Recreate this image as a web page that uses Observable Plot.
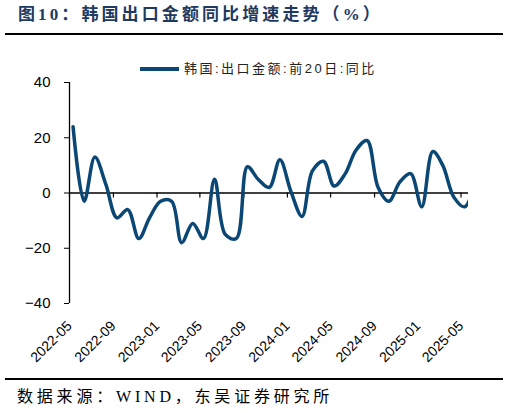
<!DOCTYPE html>
<html><head><meta charset="utf-8">
<script src="https://cdn.jsdelivr.net/npm/d3@7"></script>
<script src="https://cdn.jsdelivr.net/npm/@observablehq/plot@0.6"></script>
<style>
body{margin:0;background:#fff;width:510px;height:413px;position:relative;overflow:hidden;font-family:"Liberation Sans","Noto Sans CJK SC",sans-serif;}
#title{position:absolute;left:18px;top:5px;font-size:17px;font-weight:bold;color:#1e3a5f;letter-spacing:3.1px;font-family:"Liberation Serif","Noto Sans CJK SC",serif;white-space:nowrap;line-height:20px;}
.rule{position:absolute;left:5px;width:498px;height:2px;background:#000;}
#legend{position:absolute;left:140px;top:60px;display:flex;align-items:center;font-size:13px;letter-spacing:2.5px;color:#222;white-space:nowrap;line-height:18px;}
#legend .sw{width:39px;height:3.5px;background:#0b4775;margin-right:5px;}
#chart{position:absolute;left:0;top:40px;}
#source{position:absolute;left:17px;top:387px;font-size:16px;letter-spacing:3.8px;font-family:"Liberation Serif","Noto Sans CJK SC",serif;white-space:nowrap;line-height:20px;}
</style></head><body>
<div id="title">图10：韩国出口金额同比增速走势（%）</div>
<div class="rule" style="top:33px"></div>
<div id="legend"><div class="sw"></div><span>韩国:出口金额:前20日:同比</span></div>
<div id="chart"></div>
<div class="rule" style="top:378px"></div>
<div id="source">数据来源：WIND，东吴证券研究所</div>
<script>
const months = ["2022-05","2022-06","2022-07","2022-08","2022-09","2022-10","2022-11","2022-12",
  "2023-01","2023-02","2023-03","2023-04","2023-05","2023-06","2023-07","2023-08","2023-09","2023-10","2023-11","2023-12",
  "2024-01","2024-02","2024-03","2024-04","2024-05","2024-06","2024-07","2024-08","2024-09","2024-10","2024-11","2024-12",
  "2025-01","2025-02","2025-03","2025-04","2025-05","2025-06"];
const values = [24,-3,13,3,-9,-6,-16.5,-9,
  -3,-3,-18,-11,-16.5,5,-15,-16.5,9.5,5,2,12,
  0.5,-8.5,8,11.5,2.5,7,15.5,19,2,-3,4,7,
  -5,15,10,-1.5,-5,4];
const yTicks = [-40,-20,0,20,40];
const xTickLabels = ["2022-05","2022-09","2023-01","2023-05","2023-09","2024-01","2024-05","2024-09","2025-01","2025-05"];
const seriesName = "韩国:出口金额:前20日:同比";

const parseMonth = d3.utcParse("%Y-%m");
// monthly reading plotted at its release point inside the month
const data = months.map((m, i) => ({date: d3.utcDay.offset(parseMonth(m), 10), value: values[i]}));
const xTickDates = xTickLabels.map(parseMonth);
const xStart = parseMonth(months[0]);
const xEnd = d3.utcDay.offset(parseMonth("2025-05"), 21);

const chart = Plot.plot({
  width: 510,
  height: 335,
  marginLeft: 69,
  marginRight: 42,
  marginTop: 42,
  marginBottom: 72,
  style: {fontFamily: "Liberation Sans, Arial, sans-serif", color: "#000", background: "transparent"},
  x: {type: "utc", domain: [xStart, xEnd], label: null},
  y: {domain: [-40, 40], label: null},
  marks: [
    Plot.ruleY([0], {stroke: "#000", strokeWidth: 1.3}),
    Plot.ruleX([xStart], {stroke: "#000", strokeWidth: 1.3}),
    Plot.axisY({ticks: yTicks, tickSize: 5, tickPadding: 14, fontSize: 15, label: null, stroke: "#000"}),
    Plot.ruleX(xTickDates, {x: d => d, y1: 0, y2: -1.8, stroke: "#000", strokeWidth: 1.2}),
    Plot.axisX({ticks: xTickDates, tickSize: 0, tickRotate: -45, tickPadding: 20, fontSize: 14, label: null, tickFormat: d3.utcFormat("%Y-%m")}),
    Plot.line(data, {x: "date", y: "value", curve: "catmull-rom", stroke: "#0b4775", strokeWidth: 3.5, clip: true})
  ]
});
document.getElementById("chart").appendChild(chart);
</script>
</body></html>
